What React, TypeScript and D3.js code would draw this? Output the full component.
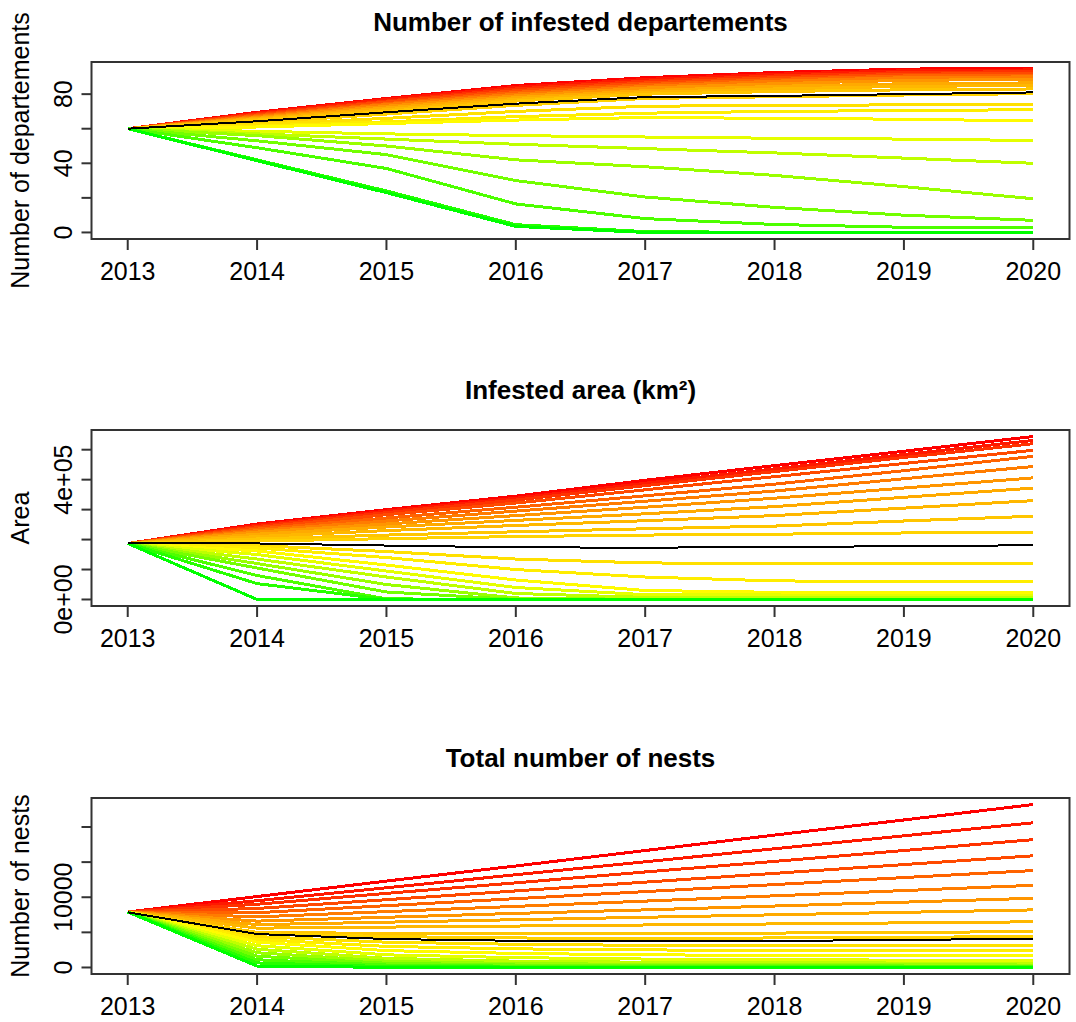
import React from 'react';
import * as d3 from 'd3';

const years = [2013, 2014, 2015, 2016, 2017, 2018, 2019, 2020];

// one row per scenario, green (row 0) -> red (last row)
const deptScenarios = [
  [60, 41.5, 23, 3.5, 0, 0, 0, 0],
  [60, 42, 24, 4.5, 0.5, 0, 0, 0],
  [60, 49, 37, 16.5, 8, 4.6, 3, 3],
  [60, 53, 45, 30, 20.5, 14.5, 10, 7],
  [60, 56, 50, 42, 38, 33, 26.5, 19.5],
  [60, 57, 54, 51, 48.5, 46, 43, 40],
  [60, 58.5, 57, 56, 55.2, 54.5, 54, 53.2],
  [60, 61, 63, 65, 66.5, 66, 65.5, 64.5],
  [60, 61.5, 64, 67, 69, 70, 70.5, 71],
  [60, 62.5, 66, 70, 73, 73.5, 73.8, 74],
  [60, 63.5, 68.5, 73.5, 77.5, 78.5, 79.5, 80.3],
  [60, 65, 70, 76, 80, 81.5, 82.5, 83],
  [60, 65.5, 71, 77, 81, 83, 84.5, 85],
  [60, 66, 72, 78, 82, 84.5, 86, 86.5],
  [60, 66.5, 73, 79, 83.5, 86, 88, 88.5],
  [60, 67, 74, 80, 84.5, 87.5, 89.5, 90],
  [60, 67.5, 74.5, 81, 85.5, 88.5, 90.5, 91],
  [60, 68, 75.5, 82, 86.5, 89.5, 91.5, 92],
  [60, 68.5, 76, 83, 87.5, 90.5, 92.5, 93],
  [60, 69, 77, 84, 88.5, 91.5, 93.5, 94],
  [60, 69.5, 77.5, 85, 89.5, 92.5, 94.5, 94.8],
];
const deptObserved = [60, 64.3, 69.5, 74.5, 78.3, 79, 80, 81];

const areaScenarios = [
  [187000, 0, 0, 0, 0, 0, 0, 0],
  [187000, 53000, 0, 0, 0, 0, 0, 0],
  [187000, 80000, 2000, 0, 0, 0, 0, 0],
  [187000, 105000, 25000, 0, 0, 0, 0, 0],
  [187000, 120000, 50000, 5000, 0, 0, 0, 0],
  [187000, 135000, 75000, 20000, 7000, 6000, 6000, 6000],
  [187000, 150000, 95000, 40000, 16000, 15000, 14000, 14000],
  [187000, 162000, 115000, 65000, 30000, 24000, 23000, 22000],
  [187000, 172000, 140000, 100000, 75000, 62000, 60000, 59000],
  [187000, 180000, 160000, 135000, 122000, 120000, 120000, 120000],
  [187000, 195000, 203000, 210000, 215000, 218000, 222000, 224000],
  [187000, 202000, 215000, 226000, 236000, 245000, 262000, 278000],
  [187000, 210000, 230000, 247000, 263000, 280000, 305000, 330000],
  [187000, 218000, 242000, 264000, 286000, 310000, 341000, 372000],
  [187000, 225000, 252000, 280000, 308000, 338000, 372000, 406000],
  [187000, 230000, 262000, 295000, 328000, 362000, 403000, 444000],
  [187000, 235000, 272000, 308000, 346000, 385000, 430000, 478000],
  [187000, 240000, 283000, 322000, 366000, 410000, 454000, 498000],
  [187000, 244000, 290000, 332000, 380000, 427000, 474000, 520000],
  [187000, 248000, 295000, 338000, 388000, 436000, 484000, 531000],
  [187000, 252000, 300000, 345000, 398000, 447000, 495000, 544000],
];
const areaObserved = [188000, 187000, 180000, 174000, 173000, 175000, 178000, 181000];

const nestScenarios = [
  [7900, 200, 20, 0, 0, 0, 0, 0],
  [7900, 650, 120, 60, 40, 30, 30, 30],
  [7900, 1100, 350, 180, 130, 110, 100, 100],
  [7900, 1600, 600, 350, 270, 230, 210, 200],
  [7900, 2100, 900, 550, 450, 400, 370, 350],
  [7900, 2600, 1300, 900, 750, 680, 630, 600],
  [7900, 3100, 1800, 1400, 1200, 1100, 1050, 1000],
  [7900, 3600, 2400, 2000, 1800, 1720, 1680, 1660],
  [7900, 4000, 3000, 2650, 2500, 2420, 2380, 2370],
  [7900, 4400, 3600, 3300, 3150, 3100, 3100, 3090],
  [7900, 4850, 4400, 4200, 4150, 4200, 4300, 4400],
  [7900, 5000, 4850, 4800, 4800, 4900, 5000, 5100],
  [7900, 5600, 5750, 5900, 6050, 6200, 6350, 6500],
  [7900, 6100, 6450, 6800, 7150, 7500, 7850, 8200],
  [7900, 6600, 7150, 7700, 8200, 8750, 9300, 9850],
  [7900, 7200, 7950, 8700, 9450, 10200, 10950, 11700],
  [7900, 7800, 8800, 9800, 10800, 11800, 12800, 13800],
  [7900, 8400, 9650, 10900, 12150, 13400, 14650, 15900],
  [7900, 9000, 10550, 12050, 13600, 15100, 16650, 18200],
  [7900, 9500, 11350, 13200, 15050, 16900, 18750, 20600],
  [7900, 10100, 12300, 14450, 16650, 18850, 21000, 23200],
];
const nestObserved = [7860, 4760, 4050, 3800, 3720, 3750, 3950, 4040];

// labelled y ticks (R drops the ones that would overlap)
const deptTickAt = [0, 40, 80];
const deptTickText = ['0', '40', '80'];
const areaTickAt = [0, 400000];
const areaTickText = ['0e+00', '4e+05'];
const nestTickAt = [0, 10000];
const nestTickText = ['0', '10000'];

const W = 1076, H = 1022;
const left = 91.5, right = 1069.5;
const font = '"Liberation Sans", Arial, sans-serif';
const ramp = ['#00ff00', '#ffff00', '#ffa500', '#ff0000'];

const x = d3.scaleLinear()
  .domain([years[0] - 0.04 * 7, years[years.length - 1] + 0.04 * 7])
  .range([left, right]);

function Panel({ title, ylab, scenarios, observed, top, bottom, tickAt, tickText }) {
  const all = scenarios.flat().concat(observed);
  const [lo, hi] = d3.extent(all);
  const pad = (hi - lo) * 0.04;
  const y = d3.scaleLinear().domain([lo - pad, hi + pad]).range([bottom, top]);
  const n = scenarios.length;
  const color = d3.scaleLinear<string>()
    .domain([0, (n - 1) / 3, (2 * (n - 1)) / 3, n - 1])
    .range(ramp);
  const line = d3.line<number>().x((_, i) => x(years[i])).y(d => y(d));
  const order = d3.range(n).reverse(); // red first, green on top

  return (
    <g>
      <text x={(left + right) / 2} y={top - 31} textAnchor="middle"
        fontFamily={font} fontWeight="bold" fontSize={26}>{title}</text>
      {order.map(i => (
        <path key={i} d={line(scenarios[i])} fill="none" stroke={color(i)}
          strokeWidth={3} shapeRendering="crispEdges" />
      ))}
      <path d={line(observed)} fill="none" stroke="#000" strokeWidth={2}
        shapeRendering="crispEdges" />
      <rect x={left} y={top} width={right - left} height={bottom - top}
        fill="none" stroke="#333" strokeWidth={2} />
      {/* x axis */}
      {years.map(yr => (
        <g key={yr}>
          <line x1={x(yr)} x2={x(yr)} y1={bottom} y2={bottom + 11} stroke="#333" strokeWidth={2} />
          <text x={x(yr)} y={bottom + 41} textAnchor="middle" fontFamily={font} fontSize={25}>{yr}</text>
        </g>
      ))}
      {/* y axis */}
      {y.ticks(6).map(t => (
        <line key={t} x1={left - 10} x2={left} y1={y(t)} y2={y(t)} stroke="#333" strokeWidth={2} />
      ))}
      {tickAt.map((t, k) => (
        <text key={t} transform={`translate(72,${y(t)}) rotate(-90)`} textAnchor="middle"
          fontFamily={font} fontSize={25}>{tickText[k]}</text>
      ))}
      <text transform={`translate(28.5,${(top + bottom) / 2}) rotate(-90)`} textAnchor="middle"
        fontFamily={font} fontSize={25}>{ylab}</text>
    </g>
  );
}

export default function App() {
  return (
    <svg width={W} height={H} style={{ position: 'absolute', left: 0, top: 0, background: '#fff' }}>
      <Panel title="Number of infested departements" ylab="Number of departements"
        scenarios={deptScenarios} observed={deptObserved} top={62} bottom={239}
        tickAt={deptTickAt} tickText={deptTickText} />
      <Panel title="Infested area (km²)" ylab="Area"
        scenarios={areaScenarios} observed={areaObserved} top={430} bottom={606}
        tickAt={areaTickAt} tickText={areaTickText} />
      <Panel title="Total number of nests" ylab="Number of nests"
        scenarios={nestScenarios} observed={nestObserved} top={798} bottom={974}
        tickAt={nestTickAt} tickText={nestTickText} />
    </svg>
  );
}
